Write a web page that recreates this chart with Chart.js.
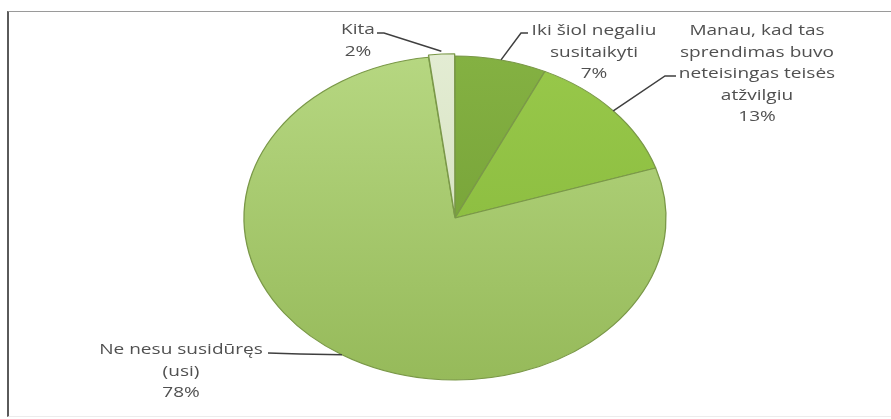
<!DOCTYPE html>
<html>
<head>
<meta charset="utf-8">
<script src="https://cdn.jsdelivr.net/npm/chart.js@4.4.1/dist/chart.umd.min.js"></script>
<style>
  html, body { margin: 0; padding: 0; background: #fff; }
  #wrap { position: relative; width: 891px; height: 419px; overflow: hidden; }
  #frame {
    position: absolute; left: 7px; top: 11px; width: 900px; height: 404px;
    border-left: 2px solid #5a5a5a; border-top: 1px solid #9a9a9a; border-bottom: 1px solid #ececec;
  }
  #pieChart { position: absolute; left: 0; top: 0; }
</style>
</head>
<body>
<div id="wrap">
  <div id="frame"></div>
  <canvas id="pieChart" width="891" height="419"></canvas>
</div>
<script>
// data (clockwise from 12 o'clock)
const labels = [
  ["Iki šiol negaliu", "susitaikyti"],
  ["Manau, kad tas", "sprendimas buvo", "neteisingas teisės", "atžvilgiu"],
  ["Ne nesu susidūręs", "(usi)"],
  ["Kita"]
];
const values = [7, 13, 78, 2];
const colorsTop = ["#84b142", "#98c84a", "#b6d781", "#e3ecd3"];
const colorsBottom = ["#6f9a33", "#84b63a", "#96ba5a", "#cfddb6"];
const offsets = [0, 0, 0, 5];

// label placement: text centre x, first line y, knee of leader line, end of leader line
const labelPos = [
  { x: 594, y: 31, knee: [521, 33], end: [528, 33] },
  { x: 757, y: 31, knee: [665, 76], end: [676, 76] },
  { x: 181, y: 350, knee: [300, 354], end: [268, 353] },
  { x: 358, y: 30, knee: [384, 33], end: [377, 33] }
];

const stretchX = 211 / 162; // the pie is drawn as a wide ellipse
const textStretch = 1.27;
const lineH = 21.5;

function sliceFill(c) {
  const chart = c.chart;
  const area = chart.chartArea;
  const i = c.dataIndex;
  if (!area) return colorsTop[i];
  const cy = (area.top + area.bottom) / 2;
  const g = chart.ctx.createLinearGradient(0, cy - 162, 0, cy + 162);
  g.addColorStop(0, colorsTop[i]);
  g.addColorStop(1, colorsBottom[i]);
  return g;
}

const ellipsePlugin = {
  id: "ellipse",
  beforeDatasetsDraw(chart) {
    const arc = chart.getDatasetMeta(0).data[0];
    const ctx = chart.ctx;
    ctx.save();
    ctx.translate(arc.x, arc.y);
    ctx.scale(stretchX, 1);
    ctx.translate(-arc.x, -arc.y);
  },
  afterDatasetsDraw(chart) {
    chart.ctx.restore();
  }
};

const labelPlugin = {
  id: "pieLabels",
  afterDraw(chart) {
    const ctx = chart.ctx;
    const arcs = chart.getDatasetMeta(0).data;
    const total = values.reduce((a, b) => a + b, 0);
    arcs.forEach((arc, i) => {
      const mid = (arc.startAngle + arc.endAngle) / 2;
      const r = arc.outerRadius + (arc.options.offset || 0);
      const ax = arc.x + Math.cos(mid) * r * stretchX;
      const ay = arc.y + Math.sin(mid) * r;
      const p = labelPos[i];
      ctx.save();
      ctx.strokeStyle = "#3f3f3f";
      ctx.lineWidth = 1.5;
      ctx.beginPath();
      ctx.moveTo(ax, ay);
      ctx.lineTo(p.knee[0], p.knee[1]);
      ctx.lineTo(p.end[0], p.end[1]);
      ctx.stroke();

      const lines = labels[i].concat([Math.round(values[i] / total * 100) + "%"]);
      ctx.fillStyle = "#505050";
      ctx.font = "15px 'Open Sans'";
      ctx.textAlign = "center";
      ctx.textBaseline = "middle";
      lines.forEach((t, k) => {
        ctx.save();
        ctx.translate(p.x, p.y + k * lineH);
        ctx.scale(textStretch, 1);
        ctx.fillText(t, 0, 0);
        ctx.restore();
      });
      ctx.restore();
    });
  }
};

const pieChart = new Chart(document.getElementById("pieChart").getContext("2d"), {
  type: "pie",
  data: {
    labels: labels,
    datasets: [
      {
        data: values,
        backgroundColor: sliceFill,
        borderColor: "#7a9848",
        borderWidth: 1,
        offset: offsets,
        radius: 162,
        clip: false
      }
    ]
  },
  options: {
    responsive: false,
    animation: false,
    events: [],
    layout: { padding: { left: 19, right: 0, top: 17, bottom: 0 } },
    plugins: {
      legend: { display: false },
      tooltip: { enabled: false }
    }
  },
  plugins: [ellipsePlugin, labelPlugin]
});
</script>
</body>
</html>
